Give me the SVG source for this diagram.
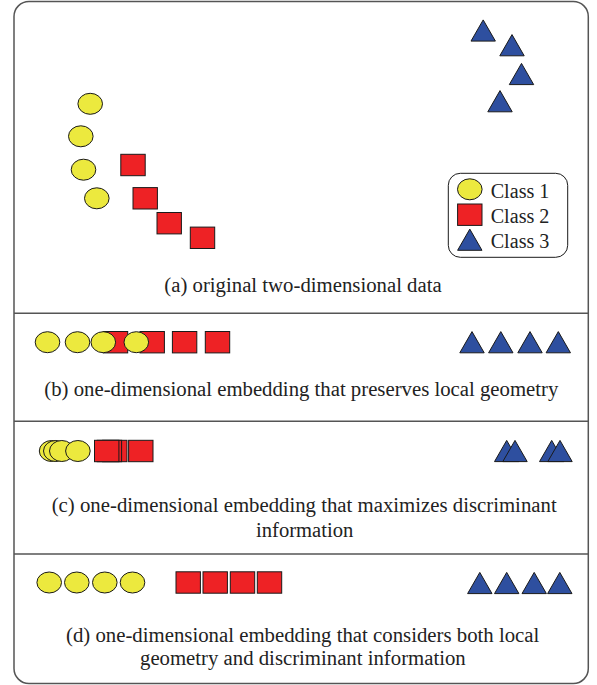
<svg xmlns="http://www.w3.org/2000/svg" width="597" height="685" viewBox="0 0 597 685">
<style>
.frame{fill:#fff;stroke:#555;stroke-width:1.5}
.div{stroke:#555;stroke-width:1.5}
.c1{fill:#ECE93E;stroke:#1a1a1a;stroke-width:1}
.c2{fill:#EE2225;stroke:#1a1a1a;stroke-width:1}
.c3{fill:#2E4F9F;stroke:#1a1a1a;stroke-width:1}
.lg{fill:#fff;stroke:#1a1a1a;stroke-width:1}
text{font-family:"Liberation Serif","Times New Roman",serif;font-size:20.5px;fill:#222}
.mid{text-anchor:middle}
</style>
<defs>
<ellipse id="e" cx="0" cy="0" rx="12.3" ry="10.5" class="c1"/>
<rect id="s" x="-12.2" y="-10.7" width="24.4" height="21.4" class="c2"/>
<polygon id="t" points="0,-10.6 12.2,10.6 -12.2,10.6" class="c3"/>
</defs>
<rect class="frame" x="14" y="1.5" width="574.3" height="682" rx="15" ry="15"/>
<line class="div" x1="14" y1="313.3" x2="588.3" y2="313.3"/>
<line class="div" x1="14" y1="421.3" x2="588.3" y2="421.3"/>
<line class="div" x1="14" y1="554" x2="588.3" y2="554"/>

<g id="panel-a">
<use href="#e" x="90.2" y="103.8"/>
<use href="#e" x="80.8" y="136.3"/>
<use href="#e" x="83.5" y="169.7"/>
<use href="#e" x="96.8" y="198.3"/>
<use href="#s" x="133" y="165"/>
<use href="#s" x="145.2" y="198.3"/>
<use href="#s" x="169.2" y="223.2"/>
<use href="#s" x="202.5" y="237.8"/>
<use href="#t" x="483.2" y="30.5"/>
<use href="#t" x="512" y="45.2"/>
<use href="#t" x="521.5" y="74"/>
<use href="#t" x="500" y="101.2"/>
<text x="164.3" y="291.5" textLength="277.4" lengthAdjust="spacingAndGlyphs">(a) original two-dimensional data</text>
</g>

<g id="legend">
<rect class="lg" x="448.3" y="173.3" width="119.4" height="84" rx="12" ry="12"/>
<use href="#e" x="469.8" y="189.3"/>
<use href="#s" x="469.8" y="214.7"/>
<use href="#t" x="469.8" y="239.7"/>
<text x="490.7" y="197.5" textLength="58.7" lengthAdjust="spacingAndGlyphs">Class 1</text>
<text x="490.7" y="222.5" textLength="58.7" lengthAdjust="spacingAndGlyphs">Class 2</text>
<text x="490.7" y="247.5" textLength="58.7" lengthAdjust="spacingAndGlyphs">Class 3</text>
</g>

<g id="panel-b">
<use href="#s" x="115.5" y="342.2"/>
<use href="#s" x="152.2" y="342.2"/>
<use href="#s" x="184.6" y="342.2"/>
<use href="#s" x="217.5" y="342.2"/>
<use href="#e" x="47.5" y="342.2"/>
<use href="#e" x="77.5" y="342.2"/>
<use href="#e" x="103.3" y="342.2"/>
<use href="#e" x="136.3" y="342.2"/>
<use href="#t" x="472" y="342.2"/>
<use href="#t" x="500.8" y="342.2"/>
<use href="#t" x="530" y="342.2"/>
<use href="#t" x="558.3" y="342.2"/>
<text x="44.3" y="396" textLength="514" lengthAdjust="spacingAndGlyphs">(b) one-dimensional embedding that preserves local geometry</text>
</g>

<g id="panel-c">
<use href="#e" x="51.6" y="451"/>
<use href="#e" x="55.8" y="451"/>
<use href="#e" x="61.8" y="451"/>
<use href="#e" x="77.9" y="451"/>
<use href="#s" x="140.8" y="451"/>
<use href="#s" x="114.8" y="451"/>
<use href="#s" x="109.4" y="451"/>
<use href="#s" x="106.7" y="451"/>
<use href="#t" x="506.7" y="451"/>
<use href="#t" x="515" y="451"/>
<use href="#t" x="551.7" y="451"/>
<use href="#t" x="560" y="451"/>
<text x="51.7" y="511.7" textLength="505" lengthAdjust="spacingAndGlyphs">(c) one-dimensional embedding that maximizes discriminant</text>
<text x="256" y="536.7" textLength="97.3" lengthAdjust="spacingAndGlyphs">information</text>
</g>

<g id="panel-d">
<use href="#e" x="49.2" y="582.5"/>
<use href="#e" x="76.8" y="582.5"/>
<use href="#e" x="104.8" y="582.5"/>
<use href="#e" x="132.5" y="582.5"/>
<use href="#s" x="188.2" y="582.5"/>
<use href="#s" x="215.2" y="582.5"/>
<use href="#s" x="242.5" y="582.5"/>
<use href="#s" x="269.5" y="582.5"/>
<use href="#t" x="479.8" y="583"/>
<use href="#t" x="506.7" y="583"/>
<use href="#t" x="534.2" y="583"/>
<use href="#t" x="559.8" y="583"/>
<text x="66" y="641.7" textLength="473.3" lengthAdjust="spacingAndGlyphs">(d) one-dimensional embedding that considers both local</text>
<text x="140" y="665" textLength="325.7" lengthAdjust="spacingAndGlyphs">geometry and discriminant information</text>
</g>
</svg>
